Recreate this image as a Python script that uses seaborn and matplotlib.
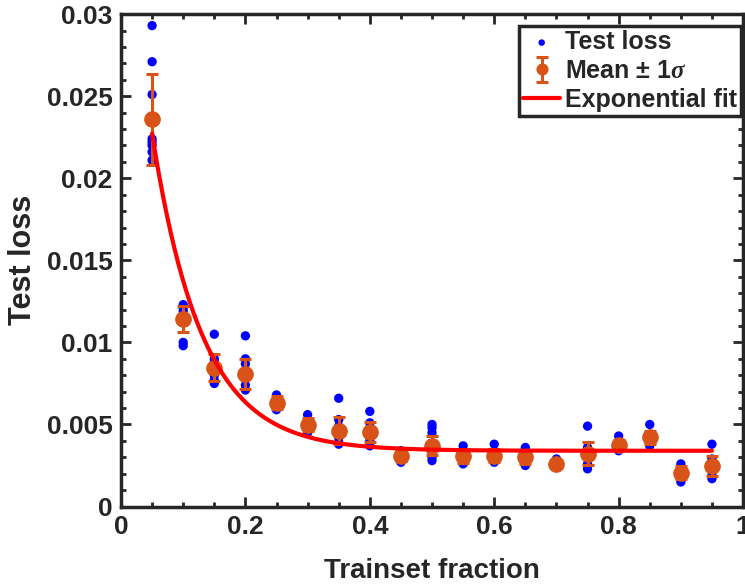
import numpy as np
import pandas as pd
import matplotlib
matplotlib.use("Agg")
import matplotlib.pyplot as plt
import seaborn as sns

sns.set_style("ticks")
plt.rcParams['font.family'] = ['Liberation Sans', 'DejaVu Sans']
plt.rcParams['font.weight'] = 'bold'
plt.rcParams['mathtext.fontset'] = 'custom'
plt.rcParams['mathtext.rm'] = 'Liberation Sans'
plt.rcParams['mathtext.it'] = 'Liberation Serif:italic'
plt.rcParams['mathtext.bf'] = 'Liberation Sans:bold'

# trainset fractions
fractions = [0.05, 0.10, 0.15, 0.20, 0.25, 0.30, 0.35, 0.40, 0.45, 0.50,
             0.55, 0.60, 0.65, 0.70, 0.75, 0.80, 0.85, 0.90, 0.95]

# individual test losses per fraction
losses = [
    [0.0293, 0.0271, 0.0251, 0.0224, 0.0222, 0.0220, 0.0216, 0.0211],
    [0.0123, 0.0122, 0.0121, 0.0119, 0.0100, 0.0098],
    [0.0105, 0.0090, 0.0088, 0.0084, 0.0080, 0.0077, 0.0075],
    [0.0104, 0.0090, 0.0087, 0.0082, 0.0078, 0.0074, 0.0071],
    [0.0068, 0.0066, 0.0063, 0.0061, 0.0059],
    [0.0056, 0.0053, 0.0050, 0.0047, 0.0045],
    [0.0066, 0.0053, 0.0049, 0.0046, 0.0042, 0.0039, 0.0038],
    [0.0058, 0.0051, 0.0048, 0.0045, 0.0040, 0.0037],
    [0.0034, 0.0032, 0.0030, 0.0029, 0.0027],
    [0.0050, 0.0048, 0.0045, 0.0038, 0.0035, 0.0033, 0.0030, 0.0028],
    [0.0037, 0.0032, 0.0029, 0.0026],
    [0.0038, 0.0032, 0.0029, 0.0027],
    [0.0036, 0.0031, 0.0028, 0.0025],
    [0.0029, 0.0026, 0.0024],
    [0.0049, 0.0036, 0.0032, 0.0030, 0.0026, 0.0023],
    [0.0043, 0.0039, 0.0036, 0.0034],
    [0.0050, 0.0044, 0.0040, 0.0037],
    [0.0026, 0.0022, 0.0018, 0.0015],
    [0.0038, 0.0029, 0.0026, 0.0023, 0.0019, 0.0017],
]

# mean and 1 sigma per fraction
means = [0.02358, 0.01144, 0.00847, 0.00806, 0.00632, 0.00499, 0.00463,
         0.00453, 0.00306, 0.00372, 0.00307, 0.00311, 0.00301, 0.00260,
         0.00321, 0.00376, 0.00422, 0.00206, 0.00247]
stds = [0.0028, 0.0008, 0.00085, 0.0009, 0.0004, 0.0004, 0.0008, 0.0006,
        0.0003, 0.0006, 0.0004, 0.0004, 0.0004, 0.0002, 0.0007, 0.0003,
        0.0004, 0.0004, 0.0006]

# exponential fit  a*exp(-b*x) + c
fit_a, fit_b, fit_c = 0.0361, 12.5, 0.0034

mean_label = r'Mean $\mathrm{\pm}$ 1$\mathit{\sigma}$'

df = pd.DataFrame({
    'fraction': [f for f, vals in zip(fractions, losses) for _ in vals],
    'loss': [v for vals in losses for v in vals],
})
xfit = np.linspace(fractions[0], fractions[-1], 300)
fit_df = pd.DataFrame({'fraction': xfit, 'loss': fit_a * np.exp(-fit_b * xfit) + fit_c})

fig = plt.figure(figsize=(7.45, 5.87), dpi=100)
ax = fig.add_axes([0.1624, 0.137, 0.835, 0.839])

sns.scatterplot(data=df, x='fraction', y='loss', ax=ax, color='#0000ff',
                s=45, edgecolor='none', label='Test loss', zorder=2)
ax.errorbar(fractions, means, yerr=stds, fmt='o', color='#d95319',
            markersize=11, elinewidth=2.2, capsize=4, capthick=2.2,
            label=mean_label, zorder=3)
sns.lineplot(data=fit_df, x='fraction', y='loss', ax=ax, color='#ff0000',
             linewidth=3, label='Exponential fit', zorder=4)

ax.set_xlim(0, 1)
ax.set_ylim(0, 0.03)
ax.set_xticks([0, 0.2, 0.4, 0.6, 0.8, 1])
ax.set_xticklabels(['0', '0.2', '0.4', '0.6', '0.8', '1'])
ax.set_yticks([0, 0.005, 0.01, 0.015, 0.02, 0.025, 0.03])
ax.set_yticklabels(['0', '0.005', '0.01', '0.015', '0.02', '0.025', '0.03'])
ax.set_xticks(np.arange(0, 1.001, 0.05), minor=True)
ax.set_yticks(np.arange(0, 0.0301, 0.001), minor=True)
ax.tick_params(which='both', direction='in', top=True, right=True,
               labelsize=19, width=2, pad=6)
ax.tick_params(which='major', length=7)
ax.tick_params(which='minor', length=3.5)
for sp in ax.spines.values():
    sp.set_linewidth(2.5)
    sp.set_color('#262626')

ax.set_xlabel('Trainset fraction', fontsize=20, fontweight='bold', labelpad=14)
ax.set_ylabel('Test loss', fontsize=22, fontweight='bold', labelpad=6)

handles, labels = ax.get_legend_handles_labels()
order = [labels.index('Test loss'), labels.index(mean_label),
         labels.index('Exponential fit')]
leg = ax.legend([handles[i] for i in order], [labels[i] for i in order],
                loc='upper right', bbox_to_anchor=(0.997, 0.975),
                fontsize=18, frameon=True, fancybox=False, markerscale=0.7,
                borderpad=0.15, labelspacing=0.2, handlelength=1.5,
                handletextpad=0.2, borderaxespad=0)
leg.get_frame().set_edgecolor('#262626')
leg.get_frame().set_linewidth(2.5)
leg.get_frame().set_alpha(1)

fig.savefig('out.png', dpi=100)
